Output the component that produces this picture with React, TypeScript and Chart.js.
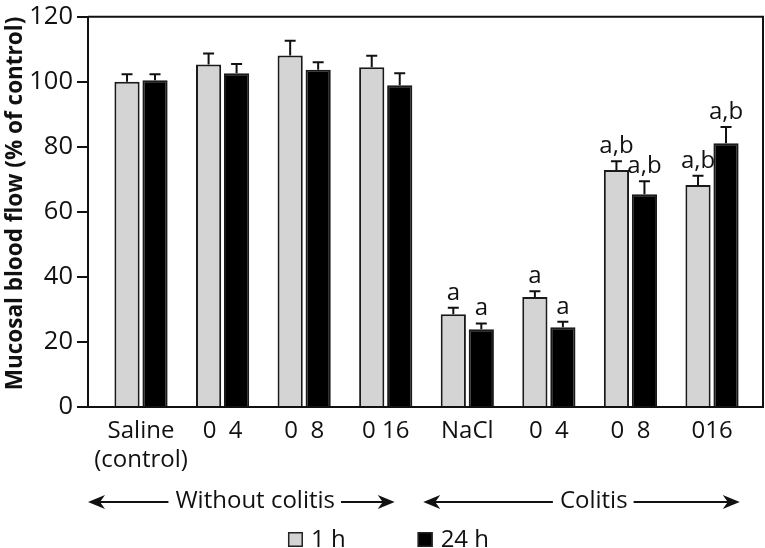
import React, { useEffect, useRef } from 'react';
import { Chart, registerables } from 'chart.js';

Chart.register(...registerables);

// ---- data ----
const categories: string[][] = [
  ['Saline', '(control)'],
  ['0  4'],
  ['0  8'],
  ['0 16'],
  ['NaCl'],
  ['0  4'],
  ['0  8'],
  ['016'],
];
const oneHour = [100, 105.3, 108.1, 104.5, 28.5, 33.8, 72.9, 68.3];
const twentyFourHour = [100.5, 102.6, 103.7, 98.9, 23.9, 24.5, 65.4, 81.1];
const oneHourErr = [2.3, 3.4, 4.5, 3.5, 2.0, 1.8, 2.7, 2.8];
const twentyFourHourErr = [1.8, 2.9, 2.3, 3.7, 1.8, 1.7, 4.0, 5.0];
const oneHourNotes = ['', '', '', '', 'a', 'a', 'a,b', 'a,b'];
const twentyFourHourNotes = ['', '', '', '', 'a', 'a', 'a,b', 'a,b'];
const seriesNames = ['1 h', '24 h'];
const yTicks = [0, 20, 40, 60, 80, 100, 120];
const groupSpans = [
  { text: 'Without colitis', from: -0.65, to: 3.11, center: 1.4 },
  { text: 'Colitis', from: 3.46, to: 7.34, center: 5.55 },
];

// ---- styles ----
const FONT = '"Open Sans", "Liberation Sans", sans-serif';
const INK = '#111111';
const GRAY = '#d4d4d4';
const BLACK = '#000000';

const values = [oneHour, twentyFourHour];
const errors = [oneHourErr, twentyFourHourErr];
const notes = [oneHourNotes, twentyFourHourNotes];
const fills = [GRAY, BLACK];

function drawArrow(ctx: CanvasRenderingContext2D, tail: number, tip: number, y: number) {
  const dir = tip > tail ? 1 : -1;
  ctx.beginPath();
  ctx.moveTo(tail, y);
  ctx.lineTo(tip - dir * 10, y);
  ctx.stroke();
  ctx.beginPath();
  ctx.moveTo(tip, y);
  ctx.lineTo(tip - dir * 17, y - 7);
  ctx.lineTo(tip - dir * 12, y);
  ctx.lineTo(tip - dir * 17, y + 7);
  ctx.closePath();
  ctx.fill();
}

const overlayPlugin = {
  id: 'overlay',
  afterDatasetsDraw(chart: any) {
    const { ctx, chartArea, scales } = chart;
    const y = scales.y;
    ctx.save();
    // frame (top & right)
    ctx.strokeStyle = INK;
    ctx.lineWidth = 2;
    ctx.beginPath();
    ctx.moveTo(chartArea.left, chartArea.top);
    ctx.lineTo(chartArea.right, chartArea.top);
    ctx.lineTo(chartArea.right, chartArea.bottom);
    ctx.stroke();
    // error bars + significance notes
    values.forEach((series, di) => {
      const meta = chart.getDatasetMeta(di);
      meta.data.forEach((bar: any, i: number) => {
        const base = y.getPixelForValue(series[i]);
        const top = y.getPixelForValue(series[i] + errors[di][i]);
        ctx.strokeStyle = INK;
        ctx.lineWidth = 2;
        ctx.beginPath();
        ctx.moveTo(bar.x, base);
        ctx.lineTo(bar.x, top);
        ctx.moveTo(bar.x - 5.5, top);
        ctx.lineTo(bar.x + 5.5, top);
        ctx.stroke();
        const note = notes[di][i];
        if (note) {
          ctx.fillStyle = INK;
          ctx.font = `24px ${FONT}`;
          ctx.textAlign = 'center';
          ctx.textBaseline = 'alphabetic';
          ctx.fillText(note, bar.x, top - 8);
        }
      });
    });
    ctx.restore();
  },
  afterDraw(chart: any) {
    const { ctx, scales, width } = chart;
    const x = scales.x;
    ctx.save();
    ctx.fillStyle = INK;
    ctx.strokeStyle = INK;
    ctx.lineWidth = 2;
    ctx.font = `24px ${FONT}`;
    ctx.textBaseline = 'middle';
    ctx.textAlign = 'center';
    const rowY = 501;
    groupSpans.forEach((g) => {
      const cx = x.getPixelForValue(g.center);
      const w = ctx.measureText(g.text).width;
      ctx.fillText(g.text, cx, rowY);
      drawArrow(ctx, cx - w / 2 - 7, x.getPixelForValue(g.from), rowY + 1);
      drawArrow(ctx, cx + w / 2 + 6, x.getPixelForValue(g.to), rowY + 1);
    });
    // legend
    const box = 15;
    const gap = 8;
    const between = 72;
    const w1 = ctx.measureText(seriesNames[0]).width;
    const w2 = ctx.measureText(seriesNames[1]).width;
    const total = box + gap + w1 + between + box + gap + w2;
    let lx = width / 2 - total / 2 + 6;
    const boxTop = 532;
    ctx.textAlign = 'left';
    ctx.textBaseline = 'alphabetic';
    seriesNames.forEach((name, i) => {
      ctx.fillStyle = fills[i];
      ctx.fillRect(lx, boxTop, box, box);
      ctx.strokeStyle = '#222';
      ctx.lineWidth = 1.5;
      ctx.strokeRect(lx + 0.75, boxTop + 0.75, box - 1.5, box - 1.5);
      ctx.fillStyle = INK;
      ctx.fillText(name, lx + box + gap, 547);
      lx += box + gap + (i === 0 ? w1 : w2) + between;
    });
    ctx.restore();
  },
};

export default function App() {
  const ref = useRef<HTMLCanvasElement | null>(null);
  useEffect(() => {
    if (!ref.current) return;
    const chart = new Chart(ref.current, {
      type: 'bar',
      data: {
        datasets: values.map((series, di) => ({
          label: seriesNames[di],
          data: series.map((v, i) => ({ x: i, y: v })),
          backgroundColor: fills[di],
          borderColor: '#1a1a1a',
          borderWidth: 2,
          borderSkipped: 'bottom',
          categoryPercentage: 0.6865,
          barPercentage: 0.9,
        })),
      },
      options: {
        animation: false,
        responsive: false,
        devicePixelRatio: 1,
        layout: { padding: { top: 13, right: 2, left: 0, bottom: 0 } },
        plugins: {
          legend: { display: false },
          tooltip: { enabled: false },
        },
        scales: {
          x: {
            type: 'linear',
            offset: false,
            min: -0.65,
            max: 7.625,
            afterBuildTicks: (scale: any) => {
              scale.ticks = categories.map((_, i) => ({ value: i }));
            },
            afterFit: (scale: any) => {
              scale.height = 141;
            },
            grid: { display: false, drawTicks: false, offset: false },
            border: { display: true, color: INK, width: 2 },
            ticks: {
              color: INK,
              font: { family: FONT, size: 24, lineHeight: 1.2 },
              padding: 10,
              maxRotation: 0,
              autoSkip: false,
              callback: (_v: any, index: number) => categories[index],
            },
          },
          y: {
            min: 0,
            max: 120,
            afterBuildTicks: (scale: any) => {
              scale.ticks = yTicks.map((v) => ({ value: v }));
            },
            afterFit: (scale: any) => {
              scale.width = 88;
            },
            grid: {
              drawOnChartArea: false,
              drawTicks: true,
              tickLength: 11,
              lineWidth: 2,
              color: INK,
            },
            border: { display: true, color: INK, width: 2 },
            ticks: {
              color: INK,
              font: { family: FONT, size: 25.5, lineHeight: 1 },
              padding: 4,
            },
            title: {
              display: true,
              text: 'Mucosal blood flow (% of control)',
              align: 'end',
              color: INK,
              font: { family: FONT, size: 22.5, weight: 'bold', lineHeight: 1.2 },
              padding: { top: 2, bottom: 0 },
            },
          },
        },
      },
      plugins: [overlayPlugin],
    } as any);
    return () => chart.destroy();
  }, []);
  return (
    <div style={{ position: 'fixed', left: 0, top: 0, width: 765, height: 548, background: '#fff' }}>
      <canvas ref={ref} width={765} height={548} style={{ display: 'block' }} />
    </div>
  );
}
